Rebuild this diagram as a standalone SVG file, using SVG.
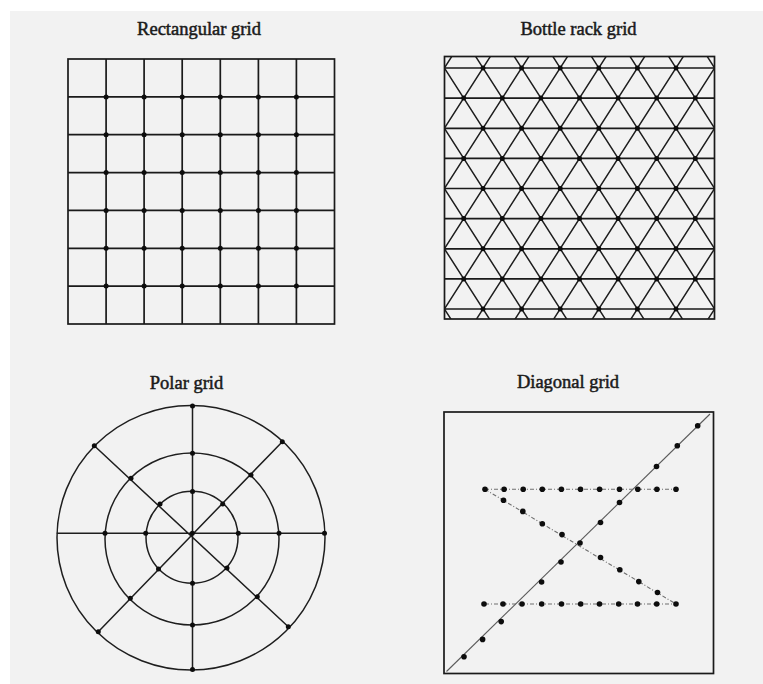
<svg xmlns="http://www.w3.org/2000/svg" width="763" height="684" viewBox="0 0 763 684">
<style>
.t{font-family:"Liberation Serif","Times New Roman",serif;font-size:18.5px;fill:#1a1a1a;stroke:#1a1a1a;stroke-width:0.5;text-anchor:middle}
.g{fill:none;stroke:#1a1a1a;stroke-width:1.7}
.gt{fill:none;stroke:#1e1e1e;stroke-width:1.5}
.d{fill:#0d0d0d}
.dl{fill:none;stroke:#6f6f6f;stroke-width:1.1;stroke-dasharray:4 2 1 2}
</style>
<defs>
<clipPath id="brclip"><rect x="444.5" y="56.5" width="270" height="262.5"/></clipPath>
<circle id="dt" r="2.5" class="d"/>
<circle id="ds" r="2.8" class="d"/>
</defs>
<rect x="0" y="0" width="763" height="684" fill="#ffffff"/>
<rect x="10" y="11" width="753" height="673" fill="#f2f2f2"/>

<g id="rectangular-grid">
<text class="t" x="199" y="34.5">Rectangular grid</text>
<rect class="g" x="68" y="59" width="266.5" height="265"/>
<path class="g" d="M106.1 59V324M144.1 59V324M182.2 59V324M220.3 59V324M258.4 59V324M296.4 59V324"/>
<path class="g" d="M68 96.9H334.5M68 134.7H334.5M68 172.6H334.5M68 210.4H334.5M68 248.3H334.5M68 286.1H334.5"/>
<g>
<use href="#dt" x="106.1" y="96.9"/><use href="#dt" x="144.1" y="96.9"/><use href="#dt" x="182.2" y="96.9"/><use href="#dt" x="220.3" y="96.9"/><use href="#dt" x="258.4" y="96.9"/><use href="#dt" x="296.4" y="96.9"/>
<use href="#dt" x="106.1" y="134.7"/><use href="#dt" x="144.1" y="134.7"/><use href="#dt" x="182.2" y="134.7"/><use href="#dt" x="220.3" y="134.7"/><use href="#dt" x="258.4" y="134.7"/><use href="#dt" x="296.4" y="134.7"/>
<use href="#dt" x="106.1" y="172.6"/><use href="#dt" x="144.1" y="172.6"/><use href="#dt" x="182.2" y="172.6"/><use href="#dt" x="220.3" y="172.6"/><use href="#dt" x="258.4" y="172.6"/><use href="#dt" x="296.4" y="172.6"/>
<use href="#dt" x="106.1" y="210.4"/><use href="#dt" x="144.1" y="210.4"/><use href="#dt" x="182.2" y="210.4"/><use href="#dt" x="220.3" y="210.4"/><use href="#dt" x="258.4" y="210.4"/><use href="#dt" x="296.4" y="210.4"/>
<use href="#dt" x="106.1" y="248.3"/><use href="#dt" x="144.1" y="248.3"/><use href="#dt" x="182.2" y="248.3"/><use href="#dt" x="220.3" y="248.3"/><use href="#dt" x="258.4" y="248.3"/><use href="#dt" x="296.4" y="248.3"/>
<use href="#dt" x="106.1" y="286.1"/><use href="#dt" x="144.1" y="286.1"/><use href="#dt" x="182.2" y="286.1"/><use href="#dt" x="220.3" y="286.1"/><use href="#dt" x="258.4" y="286.1"/><use href="#dt" x="296.4" y="286.1"/>
</g>
</g>

<g id="bottle-rack-grid">
<text class="t" x="578.5" y="34.5">Bottle rack grid</text>
<g clip-path="url(#brclip)">
<path class="gt" d="M278.5 50L457.9 330M317.1 50L496.5 330M355.7 50L535.1 330M394.3 50L573.7 330M432.9 50L612.3 330M471.5 50L650.9 330M510.1 50L689.5 330M548.7 50L728.1 330M587.3 50L766.7 330M625.9 50L805.3 330M664.5 50L843.9 330M703.1 50L882.5 330"/>
<path class="gt" d="M455.9 50L276.5 330M494.5 50L315.1 330M533.1 50L353.7 330M571.7 50L392.3 330M610.3 50L430.9 330M648.9 50L469.5 330M687.5 50L508.1 330M726.1 50L546.7 330M764.7 50L585.3 330M803.3 50L623.9 330M841.9 50L662.5 330M880.5 50L701.1 330"/>
</g>
<path class="g" d="M444.5 68H714.5M444.5 98.1H714.5M444.5 128.3H714.5M444.5 158.4H714.5M444.5 188.5H714.5M444.5 218.6H714.5M444.5 248.8H714.5M444.5 278.9H714.5M444.5 309H714.5"/>
<rect class="g" x="444.5" y="56.5" width="270" height="262.5"/>
<g>
<use href="#dt" x="483" y="68"/><use href="#dt" x="521.6" y="68"/><use href="#dt" x="560.2" y="68"/><use href="#dt" x="598.8" y="68"/><use href="#dt" x="637.4" y="68"/><use href="#dt" x="676" y="68"/>
<use href="#dt" x="463.7" y="98.1"/><use href="#dt" x="502.3" y="98.1"/><use href="#dt" x="540.9" y="98.1"/><use href="#dt" x="579.5" y="98.1"/><use href="#dt" x="618.1" y="98.1"/><use href="#dt" x="656.7" y="98.1"/><use href="#dt" x="695.3" y="98.1"/>
<use href="#dt" x="483" y="128.3"/><use href="#dt" x="521.6" y="128.3"/><use href="#dt" x="560.2" y="128.3"/><use href="#dt" x="598.8" y="128.3"/><use href="#dt" x="637.4" y="128.3"/><use href="#dt" x="676" y="128.3"/>
<use href="#dt" x="463.7" y="158.4"/><use href="#dt" x="502.3" y="158.4"/><use href="#dt" x="540.9" y="158.4"/><use href="#dt" x="579.5" y="158.4"/><use href="#dt" x="618.1" y="158.4"/><use href="#dt" x="656.7" y="158.4"/><use href="#dt" x="695.3" y="158.4"/>
<use href="#dt" x="483" y="188.5"/><use href="#dt" x="521.6" y="188.5"/><use href="#dt" x="560.2" y="188.5"/><use href="#dt" x="598.8" y="188.5"/><use href="#dt" x="637.4" y="188.5"/><use href="#dt" x="676" y="188.5"/>
<use href="#dt" x="463.7" y="218.6"/><use href="#dt" x="502.3" y="218.6"/><use href="#dt" x="540.9" y="218.6"/><use href="#dt" x="579.5" y="218.6"/><use href="#dt" x="618.1" y="218.6"/><use href="#dt" x="656.7" y="218.6"/><use href="#dt" x="695.3" y="218.6"/>
<use href="#dt" x="483" y="248.8"/><use href="#dt" x="521.6" y="248.8"/><use href="#dt" x="560.2" y="248.8"/><use href="#dt" x="598.8" y="248.8"/><use href="#dt" x="637.4" y="248.8"/><use href="#dt" x="676" y="248.8"/>
<use href="#dt" x="463.7" y="278.9"/><use href="#dt" x="502.3" y="278.9"/><use href="#dt" x="540.9" y="278.9"/><use href="#dt" x="579.5" y="278.9"/><use href="#dt" x="618.1" y="278.9"/><use href="#dt" x="656.7" y="278.9"/><use href="#dt" x="695.3" y="278.9"/>
<use href="#dt" x="483" y="309"/><use href="#dt" x="521.6" y="309"/><use href="#dt" x="560.2" y="309"/><use href="#dt" x="598.8" y="309"/><use href="#dt" x="637.4" y="309"/><use href="#dt" x="676" y="309"/>
</g>
</g>

<g id="polar-grid">
<text class="t" x="186.5" y="389">Polar grid</text>
<ellipse class="gt" cx="191" cy="537.8" rx="134" ry="132.2"/>
<ellipse class="gt" cx="192" cy="539" rx="87" ry="86"/>
<circle class="gt" cx="192" cy="537.3" r="46"/>
<path class="gt" d="M56.7 533.3H325M192.5 405.7V670M94.3 445.7L288.3 626.7M282.3 441.7L98.3 631.7"/>
<g>
<use href="#dt" x="94.3" y="445.7"/><use href="#dt" x="282.3" y="441.7"/><use href="#dt" x="288.3" y="626.7"/><use href="#dt" x="98.3" y="631.7"/><use href="#dt" x="324.5" y="533.3"/><use href="#dt" x="192.5" y="669.5"/><use href="#dt" x="192.5" y="406"/>
<use href="#dt" x="192.5" y="453.3"/><use href="#dt" x="131" y="478.3"/><use href="#dt" x="251" y="475"/><use href="#dt" x="105" y="533.3"/><use href="#dt" x="279" y="533.3"/><use href="#dt" x="130.3" y="598.3"/><use href="#dt" x="257.3" y="596.7"/><use href="#dt" x="192.5" y="625"/>
<use href="#dt" x="192.5" y="491.5"/><use href="#dt" x="160" y="504"/><use href="#dt" x="222.7" y="504"/><use href="#dt" x="145.7" y="533.3"/><use href="#dt" x="238.3" y="533.3"/><use href="#dt" x="158.5" y="569"/><use href="#dt" x="227" y="568"/><use href="#dt" x="192.5" y="583.3"/>
<use href="#dt" x="192.3" y="533.3"/>
</g>
</g>

<g id="diagonal-grid">
<text class="t" x="568" y="388">Diagonal grid</text>
<rect class="g" x="444" y="412" width="269.5" height="261.5"/>
<path d="M446.5 671.5L710 414" fill="none" stroke="#5a5a5a" stroke-width="1.1"/>
<path class="dl" d="M485 489.3H676M485 604H676M485 489.3L676 604"/>
<g>
<use href="#ds" x="464" y="656.7"/><use href="#ds" x="482.6" y="639.4"/><use href="#ds" x="501.2" y="621.6"/><use href="#ds" x="541.6" y="582"/><use href="#ds" x="561" y="562"/><use href="#ds" x="580" y="543"/><use href="#ds" x="600.5" y="522.5"/><use href="#ds" x="619.5" y="502.5"/><use href="#ds" x="656.5" y="466.5"/><use href="#ds" x="677.3" y="445.7"/><use href="#ds" x="697.7" y="425.7"/>
<use href="#ds" x="485" y="489.3"/><use href="#ds" x="504.1" y="489.3"/><use href="#ds" x="523.2" y="489.3"/><use href="#ds" x="542.3" y="489.3"/><use href="#ds" x="561.4" y="489.3"/><use href="#ds" x="580.5" y="489.3"/><use href="#ds" x="599.6" y="489.3"/><use href="#ds" x="619.5" y="489.3"/><use href="#ds" x="637.8" y="489.3"/><use href="#ds" x="656.9" y="489.3"/><use href="#ds" x="676" y="489.3"/>
<use href="#ds" x="484" y="604"/><use href="#ds" x="503" y="604"/><use href="#ds" x="522" y="604"/><use href="#ds" x="541.7" y="604"/><use href="#ds" x="561.5" y="604"/><use href="#ds" x="580.7" y="604"/><use href="#ds" x="599.5" y="604"/><use href="#ds" x="618.7" y="604"/><use href="#ds" x="637.5" y="604"/><use href="#ds" x="656.7" y="604"/><use href="#ds" x="676" y="604"/>
<use href="#ds" x="503.5" y="500.3"/><use href="#ds" x="522.8" y="511.4"/><use href="#ds" x="542.3" y="523.8"/><use href="#ds" x="562" y="534.6"/><use href="#ds" x="600.5" y="557.5"/><use href="#ds" x="619.8" y="569.8"/><use href="#ds" x="638.8" y="581.6"/><use href="#ds" x="657.5" y="592.5"/>
</g>
</g>
</svg>
